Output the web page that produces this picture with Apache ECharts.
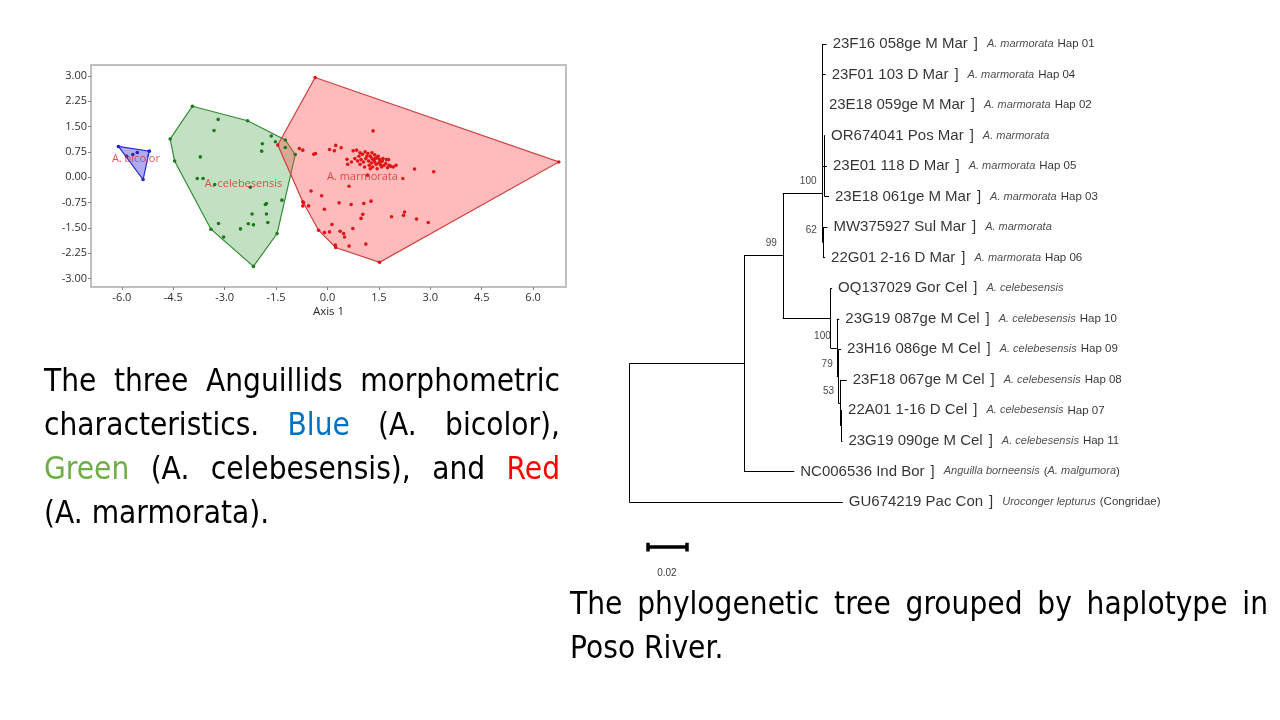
<!DOCTYPE html>
<html><head><meta charset="utf-8">
<script src="https://cdn.jsdelivr.net/npm/echarts@6/dist/echarts.min.js"></script>
<style>html,body{margin:0;padding:0;background:#fff}#c{width:1280px;height:720px}</style>
</head><body><div id="c"></div>
<script>
// ---------- PCA scatter (morphometrics) ----------
const xTicks = [-6.0, -4.5, -3.0, -1.5, 0.0, 1.5, 3.0, 4.5, 6.0];
const yTicks = [-3.00, -2.25, -1.50, -0.75, 0.00, 0.75, 1.50, 2.25, 3.00];

const bicolorHull = [[-6.10, 0.91], [-5.20, 0.77], [-5.38, -0.07]];
const bicolorPts = [[-6.10, 0.91], [-5.20, 0.77], [-5.38, -0.07], [-5.68, 0.67], [-5.55, 0.73], [-5.86, 0.62]];

const celebesensisHull = [[-3.94, 2.10], [-2.33, 1.67], [-1.23, 1.10], [-0.94, 0.67], [-1.47, -1.67],
  [-2.16, -2.64], [-3.40, -1.54], [-4.46, 0.48], [-4.59, 1.13]];
const celebesensisPts = [[-3.94, 2.10], [-2.33, 1.67], [-1.23, 1.10], [-0.94, 0.67], [-1.47, -1.67],
  [-2.16, -2.64], [-3.40, -1.54], [-4.46, 0.48], [-4.59, 1.13],
  [-3.19, 1.71], [-3.31, 1.38], [-1.64, 1.22], [-1.52, 1.05], [-1.90, 0.99], [-1.92, 0.77], [-1.23, 0.88],
  [-3.71, 0.60], [-3.80, -0.04], [-3.63, -0.04], [-3.29, -0.22], [-2.25, -0.30], [-1.33, -0.68],
  [-1.78, -0.78], [-1.81, -0.81], [-2.20, -1.09], [-1.78, -1.09], [-1.74, -1.34], [-2.31, -1.38],
  [-2.16, -1.41], [-2.54, -1.53], [-3.18, -1.37], [-3.03, -1.77]];

const marmorataHull = [[-0.36, 2.95], [6.75, 0.45], [1.52, -2.52], [0.24, -2.08], [-0.26, -1.57],
  [-0.72, -0.73], [-1.45, 0.95]];
const marmorataPts = [[-0.36, 2.95], [6.75, 0.45], [1.52, -2.52], [0.24, -2.08], [-0.26, -1.57],
  [-0.72, -0.73], [-1.45, 0.95],
  [-0.82, 0.85], [-0.72, 0.80], [-0.40, 0.68], [-0.35, 0.70], [0.06, 0.82], [0.24, 0.94], [0.20, 0.78],
  [0.40, 0.87], [1.33, 1.37], [0.57, 0.53], [0.59, 0.38], [2.54, 0.24], [3.10, 0.16], [2.20, -0.04],
  [1.17, 0.06], [0.63, -0.27], [-0.48, -0.41], [-0.17, -0.55], [-0.70, -0.75], [-0.55, -0.85],
  [-0.72, -0.85], [-0.09, -0.95], [0.34, -0.76], [0.69, -0.81], [1.06, -0.78], [1.27, -0.71],
  [1.03, -1.10], [0.98, -1.22], [1.87, -1.17], [2.25, -1.03], [2.22, -1.13], [2.60, -1.24],
  [2.94, -1.34], [0.13, -1.40], [0.06, -1.62], [-0.09, -1.64], [0.37, -1.60], [0.47, -1.67],
  [0.50, -1.77], [0.74, -1.52], [1.12, -1.98], [0.63, -2.04], [0.23, -2.01],
  [0.75, 0.78], [0.85, 0.80], [0.95, 0.72], [1.02, 0.68], [1.10, 0.75], [1.18, 0.70], [1.25, 0.62],
  [1.30, 0.72], [1.38, 0.66], [1.45, 0.58], [1.52, 0.52], [1.60, 0.48], [1.70, 0.40], [1.80, 0.35],
  [1.92, 0.30], [0.80, 0.55], [0.88, 0.48], [0.98, 0.52], [1.05, 0.45], [1.12, 0.55], [1.20, 0.48],
  [1.28, 0.42], [1.35, 0.50], [1.42, 0.38], [1.50, 0.42], [1.58, 0.30], [1.65, 0.35], [1.75, 0.28],
  [1.85, 0.32], [0.92, 0.62], [1.15, 0.62], [1.22, 0.35], [1.32, 0.30], [1.40, 0.55], [1.48, 0.62],
  [1.55, 0.36], [1.62, 0.55], [1.72, 0.52], [0.70, 0.45], [0.95, 0.38], [1.08, 0.30], [1.25, 0.25],
  [1.45, 0.25], [1.78, 0.52], [2.00, 0.35], [1.38, 0.45], [1.30, 0.55], [1.55, 0.45]];

const groupLabelNames = ['A. bicolor', 'A. celebesensis', 'A. marmorata'];
const groupLabelPos = [[-5.59, 0.55], [-2.45, -0.19], [1.02, 0.01]];

// ---------- Phylogenetic tree ----------
const leafNames = ['23F16 058ge M Mar', '23F01 103 D Mar', '23E18 059ge M Mar', 'OR674041 Pos Mar',
  '23E01 118 D Mar', '23E18 061ge M Mar', 'MW375927 Sul Mar', '22G01 2-16 D Mar',
  'OQ137029 Gor Cel', '23G19 087ge M Cel', '23H16 086ge M Cel', '23F18 067ge M Cel',
  '22A01 1-16 D Cel', '23G19 090ge M Cel', 'NC006536 Ind Bor', 'GU674219 Pac Con'];
// annotation pieces: kind 'sp' = species (italic), 'tx' = plain; suffix 0 = no leading gap
const leafNotes = [
  [['sp', 'A. marmorata'], ['tx', 'Hap 01']],
  [['sp', 'A. marmorata'], ['tx', 'Hap 04']],
  [['sp', 'A. marmorata'], ['tx', 'Hap 02']],
  [['sp', 'A. marmorata']],
  [['sp', 'A. marmorata'], ['tx', 'Hap 05']],
  [['sp', 'A. marmorata'], ['tx', 'Hap 03']],
  [['sp', 'A. marmorata']],
  [['sp', 'A. marmorata'], ['tx', 'Hap 06']],
  [['sp', 'A. celebesensis']],
  [['sp', 'A. celebesensis'], ['tx', 'Hap 10']],
  [['sp', 'A. celebesensis'], ['tx', 'Hap 09']],
  [['sp', 'A. celebesensis'], ['tx', 'Hap 08']],
  [['sp', 'A. celebesensis'], ['tx', 'Hap 07']],
  [['sp', 'A. celebesensis'], ['tx', 'Hap 11']],
  [['sp', 'Anguilla borneensis'], ['tx', '('], ['sp0', 'A. malgumora'], ['tx0', ')']],
  [['sp', 'Uroconger lepturus'], ['tx', '(Congridae)']]
];
// distance from root to each tip (substitutions/site)
const leafTipX = [0.1012, 0.1007, 0.0993, 0.1004, 0.1014, 0.1024, 0.1016, 0.1004,
  0.1040, 0.1077, 0.1086, 0.1115, 0.1091, 0.1093, 0.0846, 0.1095];
// internal nodes: id, depth, row position, children
const nodeIds = ['R', 'N1', 'N2', 'M', 'M2', 'M62', 'C', 'C2', 'C3', 'C4', 'C5'];
const nodeX = [0, 0.0588, 0.0787, 0.0991, 0.1000, 0.0993, 0.1033, 0.1064, 0.1074, 0.1081, 0.1086];
const nodeY = [null, 10.46, 6.91, 4.89, 4.0, 6.5, 8.98, 9.97, 10.87, 11.78, 12.5];
const nodeChildren = [['N1', 'L15'], ['N2', 'L14'], ['M', 'C'], ['L0', 'L1', 'L2', 'M2', 'M62'],
  ['L3', 'L4', 'L5'], ['L6', 'L7'], ['L8', 'C2'], ['L9', 'C3'], ['L10', 'C4'], ['L11', 'C5'], ['L12', 'L13']];
const bootstrapNodes = ['M', 'N2', 'M62', 'C2', 'C3', 'C4'];
const bootstrapValues = [100, 99, 62, 100, 79, 53];
const scaleBarLength = 0.02;
const scaleBarStart = [0.0093, 16.48];

// ---------- captions ----------
const captionLeft = [
  [['The'], ['three'], ['Anguillids'], ['morphometric']],
  [['characteristics.'], ['Blue', '#0070C0'], ['(A.'], ['bicolor),']],
  [['Green', '#70AD47'], ['(A.'], ['celebesensis),'], ['and'], ['Red', '#FF0000']],
  [['(A.'], ['marmorata).']]
];
const captionRight = [
  [['The'], ['phylogenetic'], ['tree'], ['grouped'], ['by'], ['haplotype'], ['in']],
  [['Poso'], ['River.']]
];

// ====================================================================
const chart = echarts.init(document.getElementById('c'), null, {renderer: 'canvas'});

// tree geometry
const pos = {};
leafNames.forEach((n, i) => { pos['L' + i] = [leafTipX[i], i]; });
nodeIds.forEach((id, k) => { pos[id] = [nodeX[k], nodeY[k]]; });
const treeSegs = [];
nodeIds.forEach((id, k) => {
  const ch = nodeChildren[k];
  const ys = ch.map(c => pos[c][1]);
  treeSegs.push({coords: [[nodeX[k], Math.min(...ys)], [nodeX[k], Math.max(...ys)]]});
  ch.forEach(c => treeSegs.push({coords: [[nodeX[k], pos[c][1]], [pos[c][0], pos[c][1]]]}));
});
const sbEnd = scaleBarStart[0] + scaleBarLength;
const sbY = scaleBarStart[1];

// justified caption text
const measureCtx = document.createElement('canvas').getContext('2d');
function captionGraphics(lines, left, right, yCenters, fontSize, sx) {
  const font = fontSize + 'px "DejaVu Sans"';
  measureCtx.font = font;
  const out = [];
  const spaceW = measureCtx.measureText(' ').width * sx;
  lines.forEach((words, li) => {
    const widths = words.map(w => measureCtx.measureText(w[0]).width * sx);
    const total = widths.reduce((a, b) => a + b, 0);
    const last = li === lines.length - 1;
    const gap = (!last && words.length > 1) ? (right - left - total) / (words.length - 1) : spaceW;
    let x = left;
    words.forEach((w, wi) => {
      out.push({type: 'text', x: x, y: yCenters[li], scaleX: sx, silent: true,
        style: {text: w[0], font: font, fill: w[1] || '#000', align: 'left', verticalAlign: 'middle'}});
      x += widths[wi] + gap;
    });
  });
  return out;
}
const graphics = []
  .concat(captionGraphics(captionLeft, 44, 560, [383, 427, 471, 515], 32, 0.88))
  .concat(captionGraphics(captionRight, 570, 1268, [606, 650], 32, 0.88));

function hull(points, fill, stroke) {
  return {type: 'custom', xAxisIndex: 0, yAxisIndex: 0, silent: true, data: [[0, 0]], z: 1,
    renderItem: (params, api) => ({type: 'polygon',
      shape: {points: points.map(p => api.coord(p))},
      style: {fill: fill, stroke: stroke, lineWidth: 1.2}})};
}
function pts(data, color) {
  return {type: 'scatter', xAxisIndex: 0, yAxisIndex: 0, data: data, symbolSize: 3.6, silent: true, z: 3,
    itemStyle: {color: color, opacity: 1}};
}

const fontTree = 'Liberation Sans';
const rich = {
  n: {fontFamily: fontTree, fontSize: 15, color: '#000'},
  b: {fontFamily: fontTree, fontSize: 15, color: '#000', padding: [0, 0, 0, 6]},
  sp: {fontFamily: fontTree, fontSize: 11, fontStyle: 'italic', color: '#222', padding: [0, 0, 0, 9]},
  sp0: {fontFamily: fontTree, fontSize: 11, fontStyle: 'italic', color: '#222'},
  tx: {fontFamily: fontTree, fontSize: 11.5, color: '#000', padding: [0, 0, 0, 4]},
  tx0: {fontFamily: fontTree, fontSize: 11.5, color: '#000'}
};

const option = {
  animation: false,
  backgroundColor: '#fff',
  graphic: graphics,
  grid: [
    {left: 91, top: 65, width: 475, height: 222, show: true, borderColor: '#ababab', borderWidth: 1.5,
      outerBoundsMode: 'none'},
    {left: 629.3, top: 44, width: 234, height: 519, show: false, outerBoundsMode: 'none'}
  ],
  xAxis: [
    {gridIndex: 0, type: 'value', min: -6.9, max: 6.96, position: 'bottom',
      name: 'Axis 1', nameLocation: 'middle', nameGap: 19,
      nameTextStyle: {fontFamily: 'Open Sans', fontSize: 11.5, color: '#2a2a2a'},
      axisLine: {show: false, onZero: false}, splitLine: {show: false},
      axisTick: {show: true, customValues: xTicks, length: 3, lineStyle: {color: '#888'}},
      axisLabel: {customValues: xTicks, formatter: v => Number(v).toFixed(1), fontFamily: 'Open Sans',
        fontSize: 11, color: '#2f2f2f', margin: 5}},
    {gridIndex: 1, type: 'value', min: 0, max: 0.12, show: false}
  ],
  yAxis: [
    {gridIndex: 0, type: 'value', min: -3.25, max: 3.32, position: 'left',
      axisLine: {show: false, onZero: false}, splitLine: {show: false},
      axisTick: {show: true, customValues: yTicks, length: 3, lineStyle: {color: '#888'}},
      axisLabel: {customValues: yTicks, formatter: v => Number(v).toFixed(2), fontFamily: 'Open Sans',
        fontSize: 11, color: '#2f2f2f', margin: 4}},
    {gridIndex: 1, type: 'value', min: 0, max: 17, inverse: true, show: false}
  ],
  series: [
    hull(celebesensisHull, 'rgba(70,165,70,0.33)', '#338a33'),
    hull(marmorataHull, 'rgba(255,75,75,0.38)', '#cf3f3f'),
    hull(bicolorHull, 'rgba(60,60,235,0.42)', '#2b2bcc'),
    pts(celebesensisPts, '#1c7a1c'),
    pts(marmorataPts, '#e01414'),
    pts(bicolorPts, '#2020cc'),
    {type: 'scatter', xAxisIndex: 0, yAxisIndex: 0, symbolSize: 0, silent: true, z: 4,
      data: groupLabelNames.map((n, i) => ({name: n, value: groupLabelPos[i]})),
      label: {show: true, position: 'inside', formatter: '{b}', fontFamily: 'Open Sans', fontSize: 11,
        color: '#d92b2b', textBorderWidth: 0}},
    // tree branches
    {type: 'lines', coordinateSystem: 'cartesian2d', xAxisIndex: 1, yAxisIndex: 1, silent: true,
      data: treeSegs, lineStyle: {color: '#000', width: 1, opacity: 1, curveness: 0}},
    // scale bar
    {type: 'lines', coordinateSystem: 'cartesian2d', xAxisIndex: 1, yAxisIndex: 1, silent: true,
      data: [{coords: [[scaleBarStart[0], sbY], [sbEnd, sbY]]}],
      lineStyle: {color: '#000', width: 3.5, opacity: 1}},
    {type: 'lines', coordinateSystem: 'cartesian2d', xAxisIndex: 1, yAxisIndex: 1, silent: true,
      data: [{coords: [[scaleBarStart[0], sbY - 0.14], [scaleBarStart[0], sbY + 0.14]]},
             {coords: [[sbEnd, sbY - 0.14], [sbEnd, sbY + 0.14]]}],
      lineStyle: {color: '#000', width: 3.5, opacity: 1}},
    {type: 'scatter', xAxisIndex: 1, yAxisIndex: 1, symbolSize: 0, silent: true,
      data: [[(scaleBarStart[0] + sbEnd) / 2, sbY]],
      label: {show: true, position: 'bottom', distance: 21, formatter: String(scaleBarLength),
        fontFamily: fontTree, fontSize: 10, color: '#000'}},
    // leaf labels
    {type: 'scatter', xAxisIndex: 1, yAxisIndex: 1, symbolSize: 0, silent: true,
      data: leafNames.map((n, i) => [leafTipX[i], i]),
      label: {show: true, position: 'right', distance: 6, rich: rich,
        formatter: p => {
          const i = p.dataIndex;
          return '{n|' + leafNames[i] + '}{b|]}' + leafNotes[i].map(s => '{' + s[0] + '|' + s[1] + '}').join('');
        }}},
    // bootstrap values
    {type: 'scatter', xAxisIndex: 1, yAxisIndex: 1, symbolSize: 0, silent: true,
      data: bootstrapNodes.map((id, k) => ({value: [pos[id][0], pos[id][1]]})),
      label: {show: true, position: 'left', distance: 6, offset: [0, -12],
        formatter: p => String(bootstrapValues[p.dataIndex]), fontFamily: fontTree, fontSize: 10, color: '#111'}}
  ]
};
chart.setOption(option);
</script>
</body></html>
